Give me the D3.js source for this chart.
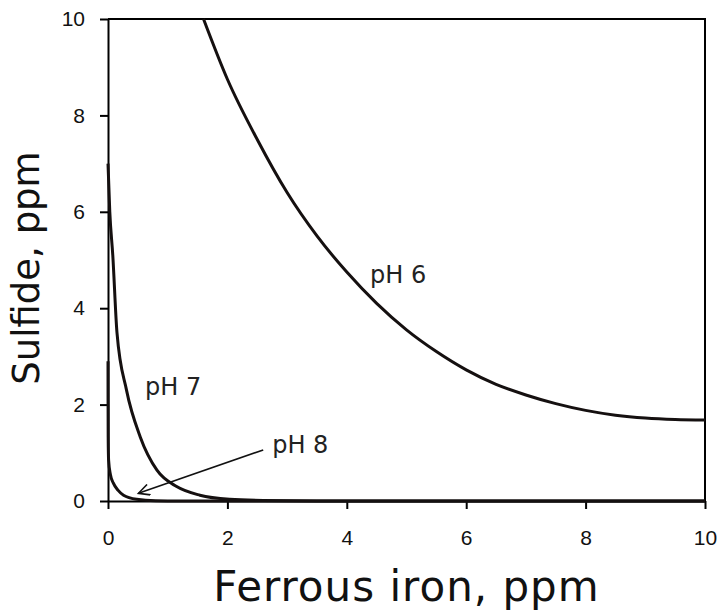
<!DOCTYPE html>
<html>
<head>
  <meta charset="UTF-8">
  <title>Sulfide vs ferrous iron</title>
  <style>
    body { margin: 0; background: #fff; }
    svg { display: block; }
  </style>
</head>
<body>
<svg></svg>
<script src="https://d3js.org/d3.v7.min.js"></script>
<script>

let width = 719, height = 610;
let margin = {top: 19, right: 14, bottom: 109, left: 108};

// tick labels
let xTicks = [0, 2, 4, 6, 8, 10];
let yTicks = [0, 2, 4, 6, 8, 10];

// curves (Fe ppm, sulfide ppm)
let ph6Fe = [1.60, 2.0, 2.5, 3.0, 3.5, 4.0, 4.5, 5.0, 5.5, 6.0, 6.5, 7.0, 7.5, 8.0, 8.5, 9.0, 9.5, 10];
let ph6S  = [10, 8.75, 7.5, 6.4, 5.5, 4.75, 4.1, 3.55, 3.1, 2.72, 2.42, 2.2, 2.02, 1.88, 1.78, 1.72, 1.69, 1.68];

let ph7Fe = [0, 0.03, 0.08, 0.15, 0.31, 0.54, 0.82, 1.15, 1.54, 2.04, 2.6, 3.5, 10];
let ph7S  = [7.0, 6.0, 5.1, 3.5, 2.3, 1.33, 0.64, 0.30, 0.12, 0.035, 0.01, 0, 0];

let ph8Fe = [0, 0.001, 0.003, 0.01, 0.04, 0.09, 0.17, 0.26, 0.48, 0.8, 1.2, 10];
let ph8S  = [2.9, 2.1, 1.33, 0.85, 0.55, 0.37, 0.22, 0.12, 0.035, 0.005, 0, 0];

let labels = [
  {text: "pH 6", x: 4.39, y: 4.52},
  {text: "pH 7", x: 0.62, y: 2.20},
  {text: "pH 8", x: 2.75, y: 1.00}
];
let arrowFrom = [2.60, 1.06], arrowTo = [0.51, 0.16];

let svg = d3.select("svg")
    .attr("width", width)
    .attr("height", height);

let x = d3.scaleLinear().domain([0, 10]).range([margin.left, width - margin.right]);
let y = d3.scaleLinear().domain([0, 10]).range([height - margin.bottom, margin.top]);

let toPts = (xs, ys) => xs.map((v, i) => [v, ys[i]]);

let line = d3.line()
    .x(d => x(d[0]))
    .y(d => y(d[1]))
    .curve(d3.curveMonotoneX);

// axes
let styleAxis = g => {
  g.select(".domain").attr("stroke-width", 2);
  g.selectAll(".tick line").attr("stroke-width", 2);
  g.attr("font-family", "Liberation Sans, Arial, sans-serif").attr("font-size", 21);
  g.selectAll(".tick text").attr("fill", "#111");
};

svg.append("g")
    .attr("transform", "translate(0," + y(0) + ")")
    .call(d3.axisBottom(x).tickValues(xTicks).tickSize(8).tickSizeOuter(0).tickPadding(21))
    .call(styleAxis);

svg.append("g")
    .attr("transform", "translate(" + x(0) + ",0)")
    .call(d3.axisLeft(y).tickValues(yTicks).tickSize(8).tickSizeOuter(0).tickPadding(15))
    .call(styleAxis);

// frame top and right
svg.append("path")
    .attr("d", "M" + x(0) + "," + y(10) + " H" + x(10) + " V" + y(0))
    .attr("fill", "none")
    .attr("stroke", "#000")
    .attr("stroke-width", 2);

// curves
let curves = svg.append("g").attr("fill", "none").attr("stroke", "#151010").attr("stroke-width", 3);
[toPts(ph6Fe, ph6S), toPts(ph7Fe, ph7S), toPts(ph8Fe, ph8S)].forEach(pts => {
  curves.append("path").attr("d", line(pts));
});

// arrow
svg.append("defs").append("marker")
    .attr("id", "head")
    .attr("viewBox", "-1 -6 14 12")
    .attr("refX", 11)
    .attr("refY", 0)
    .attr("markerUnits", "userSpaceOnUse")
    .attr("markerWidth", 14)
    .attr("markerHeight", 12)
    .attr("orient", "auto")
    .append("path")
      .attr("d", "M0,-5.5 L11,0 L0,5.5")
      .attr("fill", "none")
      .attr("stroke", "#111")
      .attr("stroke-width", 1.6);

svg.append("line")
    .attr("x1", x(arrowFrom[0])).attr("y1", y(arrowFrom[1]))
    .attr("x2", x(arrowTo[0])).attr("y2", y(arrowTo[1]))
    .attr("stroke", "#111")
    .attr("stroke-width", 1.6)
    .attr("marker-end", "url(#head)");

// curve labels
svg.selectAll("text.lab")
    .data(labels)
    .enter().append("text")
    .attr("class", "lab")
    .attr("x", d => x(d.x))
    .attr("y", d => y(d.y))
    .attr("font-family", "DejaVu Sans, sans-serif")
    .attr("font-size", 24)
    .attr("fill", "#222")
    .text(d => d.text);

// axis titles
svg.append("text")
    .attr("x", (x(0) + x(10)) / 2)
    .attr("y", 601)
    .attr("text-anchor", "middle")
    .attr("font-family", "DejaVu Sans, sans-serif")
    .attr("font-size", 42)
    .attr("letter-spacing", 1)
    .attr("fill", "#111")
    .text("Ferrous iron, ppm");

svg.append("text")
    .attr("transform", "translate(39," + 268 + ") rotate(-90)")
    .attr("text-anchor", "middle")
    .attr("font-family", "DejaVu Sans, sans-serif")
    .attr("font-size", 37)
    .attr("fill", "#111")
    .text("Sulfide, ppm");

</script>
</body>
</html>
